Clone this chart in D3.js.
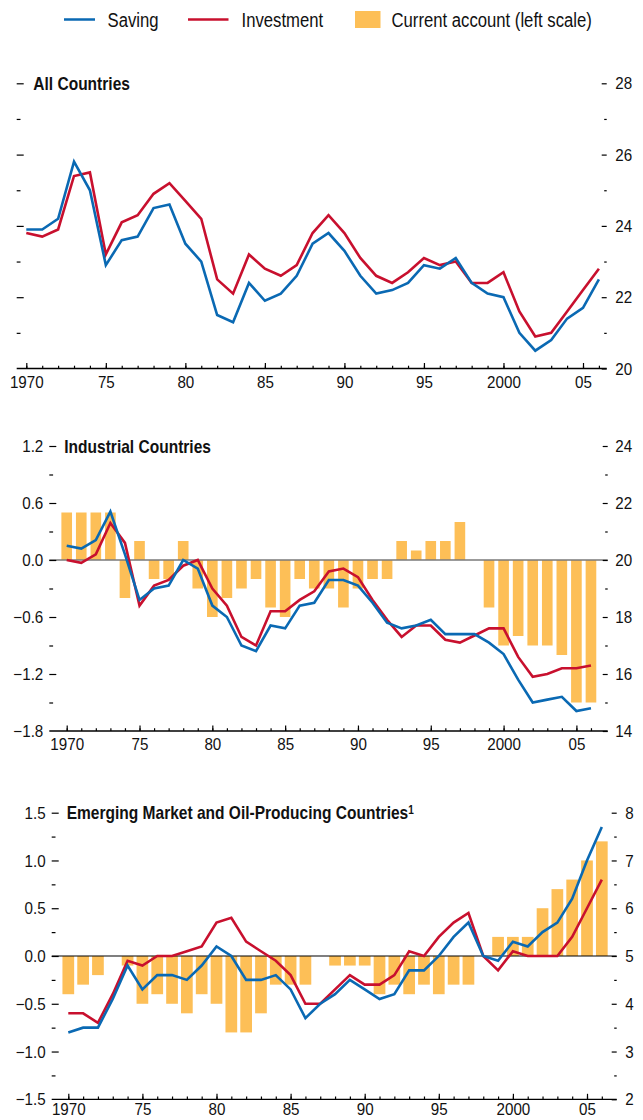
<!DOCTYPE html>
<html>
<head>
<meta charset="utf-8">
<script src="https://cdn.jsdelivr.net/npm/d3@7"></script>
<style>
  html, body { margin: 0; padding: 0; background: #fff; }
  svg { display: block; }
</style>
</head>
<body>
<svg id="chart" width="643" height="1120"></svg>
<script>
// ---------------- DATA ----------------
const years = [1970,1971,1972,1973,1974,1975,1976,1977,1978,1979,
               1980,1981,1982,1983,1984,1985,1986,1987,1988,1989,
               1990,1991,1992,1993,1994,1995,1996,1997,1998,1999,
               2000,2001,2002,2003,2004,2005,2006];
const xTickYears  = [1970,1975,1980,1985,1990,1995,2000,2005];
const xTickLabels = ["1970","75","80","85","90","95","2000","05"];

// All countries (percent of GDP, right scale)
const allSaving     = [23.9,23.9,24.2,25.8,25.0,22.9,23.6,23.7,24.5,24.6,
                       23.5,23.0,21.5,21.3,22.4,21.9,22.1,22.6,23.5,23.8,
                       23.3,22.6,22.1,22.2,22.4,22.9,22.8,23.1,22.4,22.1,
                       22.0,21.0,20.5,20.8,21.4,21.7,22.5];
const allInvestment = [23.8,23.7,23.9,25.4,25.5,23.2,24.1,24.3,24.9,25.2,
                       24.7,24.2,22.5,22.1,23.2,22.8,22.6,22.9,23.8,24.3,
                       23.8,23.1,22.6,22.4,22.7,23.1,22.9,23.0,22.4,22.4,
                       22.7,21.6,20.9,21.0,21.6,22.2,22.8];

// Industrial countries
const indCurrentAccount = [0.5,0.5,0.5,0.5,-0.4,0.2,-0.2,-0.2,0.2,-0.3,
                           -0.6,-0.4,-0.3,-0.2,-0.5,-0.6,-0.2,-0.3,-0.3,-0.5,
                           -0.3,-0.2,-0.2,0.2,0.1,0.2,0.2,0.4,0.0,-0.5,
                           -0.9,-0.8,-0.9,-0.9,-1.0,-1.5,-1.5];
const indSaving     = [20.5,20.4,20.7,21.7,20.2,18.6,19.0,19.1,20.0,19.7,
                       18.4,18.0,17.0,16.8,17.7,17.6,18.4,18.5,19.3,19.3,
                       19.1,18.5,17.8,17.6,17.7,17.9,17.4,17.4,17.4,17.1,
                       16.7,15.8,15.0,15.1,15.2,14.7,14.8];
const indInvestment = [20.0,19.9,20.2,21.3,20.6,18.4,19.1,19.3,19.8,20.0,
                       19.0,18.4,17.3,17.0,18.2,18.2,18.6,18.9,19.6,19.7,
                       19.4,18.6,17.9,17.3,17.7,17.7,17.2,17.1,17.35,17.6,
                       17.6,16.6,15.9,16.0,16.2,16.2,16.3];

// Emerging market and oil-producing countries
const emCurrentAccount = [-0.4,-0.3,-0.2,0.0,-0.1,-0.5,-0.4,-0.5,-0.6,-0.4,
                          -0.5,-0.8,-0.8,-0.6,-0.3,-0.3,-0.3,0.0,-0.1,-0.1,
                          -0.1,-0.4,-0.3,-0.4,-0.3,-0.4,-0.3,-0.3,0.0,0.2,
                          0.2,0.2,0.5,0.7,0.8,1.0,1.2];
const emSaving     = [3.4,3.5,3.5,4.1,4.8,4.3,4.6,4.6,4.5,4.8,
                      5.2,5.0,4.5,4.5,4.6,4.3,3.7,4.0,4.2,4.5,
                      4.3,4.1,4.2,4.7,4.7,5.0,5.4,5.7,5.0,4.9,
                      5.3,5.2,5.5,5.7,6.2,7.0,7.7];
const emInvestment = [3.8,3.8,3.6,4.2,4.9,4.8,5.0,5.0,5.1,5.2,
                      5.7,5.8,5.3,5.1,4.9,4.6,4.0,4.0,4.3,4.6,
                      4.4,4.4,4.6,5.1,5.0,5.4,5.7,5.9,5.0,4.7,
                      5.1,5.0,5.0,5.0,5.4,6.0,6.6];

// Axis tick values
const allRightMajor = [20,22,24,26,28];
const allRightMinor = [21,23,25,27];
const indLeftMajor  = [-1.8,-1.2,-0.6,0.0,0.6,1.2];
const indLeftMinor  = [-1.5,-0.9,-0.3,0.3,0.9];
const indRightMajor = [14,16,18,20,22,24];
const indRightMinor = [15,17,19,21,23];
const emLeftMajor   = [-1.5,-1.0,-0.5,0.0,0.5,1.0,1.5];
const emLeftMinor   = [-1.25,-0.75,-0.25,0.25,0.75,1.25];
const emRightMajor  = [2,3,4,5,6,7,8];
const emRightMinor  = [2.5,3.5,4.5,5.5,6.5,7.5];

const legendLabels = ["Saving","Investment","Current account (left scale)"];
const titles = ["All Countries","Industrial Countries","Emerging Market and Oil-Producing Countries"];

// ---------------- STYLE ----------------
const BLUE = "#0a69b3", RED = "#c8102e", ORANGE = "#fdbf57";
const FONT = "'Liberation Sans', Arial, sans-serif";
const TXT_SCALE = 0.835;   // condensed look
const NUM_SCALE = 0.92;

const svg = d3.select("#chart");

function condText(parent, x, y, str, size, weight, sx) {
  return parent.append("text")
    .attr("transform", `translate(${x},${y}) scale(${sx},1)`)
    .attr("font-family", FONT).attr("font-size", size)
    .attr("font-weight", weight).attr("fill", "#111").text(str);
}

// ---------------- LEGEND ----------------
const lg = svg.append("g");
lg.append("line").attr("x1",64).attr("x2",95).attr("y1",19.5).attr("y2",19.5)
  .attr("stroke",BLUE).attr("stroke-width",2.5);
condText(lg, 107.5, 26.5, legendLabels[0], 20, "normal", TXT_SCALE);
lg.append("line").attr("x1",188).attr("x2",228.5).attr("y1",19.5).attr("y2",19.5)
  .attr("stroke",RED).attr("stroke-width",2.5);
condText(lg, 241.5, 26.5, legendLabels[1], 20, "normal", TXT_SCALE);
lg.append("rect").attr("x",355).attr("y",11).attr("width",25.5).attr("height",17)
  .attr("fill",ORANGE);
condText(lg, 391.5, 26.5, legendLabels[2], 20, "normal", TXT_SCALE);

// ---------------- PANEL BUILDER ----------------
function panel(cfg) {
  const g = svg.append("g");
  const x = d3.scaleLinear().domain([1970,2005]).range(cfg.xRange);
  const yR = d3.scaleLinear().domain(cfg.rightDomain).range([cfg.yBot, cfg.yTop]);
  const yL = cfg.leftDomain ? d3.scaleLinear().domain(cfg.leftDomain).range([cfg.yBot, cfg.yTop]) : null;
  const step = x(1971) - x(1970);

  // bars
  if (cfg.ca) {
    const bw = step * cfg.barFrac;
    g.append("g").selectAll("rect").data(years.map((yr,i)=>({yr, v:cfg.ca[i]})).filter(d=>d.v!==0))
      .join("rect")
      .attr("x", d => x(d.yr) - bw/2)
      .attr("width", bw)
      .attr("y", d => Math.min(yL(d.v), yL(0)))
      .attr("height", d => Math.abs(yL(d.v) - yL(0)))
      .attr("fill", ORANGE);
    g.append("line").attr("x1",cfg.axisX0).attr("x2",cfg.axisX1)
      .attr("y1",yL(0)).attr("y2",yL(0))
      .attr("stroke",cfg.zeroColor).attr("stroke-width",cfg.zeroWidth);
  }

  // lines
  const line = d3.line().x((d,i)=>x(years[i])).y(d=>yR(d));
  g.append("path").datum(cfg.investment).attr("d",line)
    .attr("fill","none").attr("stroke",RED).attr("stroke-width",2.6);
  g.append("path").datum(cfg.saving).attr("d",line)
    .attr("fill","none").attr("stroke",BLUE).attr("stroke-width",2.6);

  // x axis line
  g.append("line").attr("x1",cfg.axisX0).attr("x2",cfg.axisX1)
    .attr("y1",cfg.yBot).attr("y2",cfg.yBot).attr("stroke","#000").attr("stroke-width",1.3);

  // x minor ticks
  const xMin = g.append("g").attr("transform",`translate(0,${cfg.yBot})`)
    .call(d3.axisBottom(x).tickValues(years).tickSize(-2.8).tickFormat(""));
  // x major ticks + labels
  const xMaj = g.append("g").attr("transform",`translate(0,${cfg.yBot})`)
    .call(d3.axisBottom(x).tickValues(xTickYears).tickSize(-5.5).tickPadding(cfg.xLabelPad)
      .tickFormat((d,i)=>xTickLabels[i]));
  [xMin,xMaj].forEach(a => a.select(".domain").remove());

  // left axis
  const lScale = yL || yR;
  const lMajTicks = cfg.leftMajor || cfg.rightMajor;
  const lMinTicks = cfg.leftMinor || cfg.rightMinor;
  const lMaj = g.append("g").attr("transform",`translate(${cfg.axisX0},0)`)
    .call(d3.axisLeft(lScale).tickValues(lMajTicks.filter(v=>v!==lScale.domain()[0]))
      .tickSize(-7).tickPadding(6)
      .tickFormat(cfg.leftMajor ? cfg.leftFormat : ""));
  const lMin = g.append("g").attr("transform",`translate(${cfg.axisX0},0)`)
    .call(d3.axisLeft(lScale).tickValues(lMinTicks).tickSize(-3.8).tickFormat(""));
  if (cfg.leftMajor) {
    lMaj.append("g").attr("class","tick").attr("transform",`translate(0,${lScale(lScale.domain()[0])})`)
      .append("text").attr("x",-6).attr("dy","0.32em").attr("text-anchor","end")
      .text(cfg.leftFormat(lScale.domain()[0]));
  }

  // right axis
  const rMaj = g.append("g").attr("transform",`translate(${cfg.rightAxisX},0)`)
    .call(d3.axisRight(yR).tickValues(cfg.rightMajor).tickSize(-5).tickPadding(cfg.rightPad)
      .tickFormat(d3.format("d")));
  const rMin = g.append("g").attr("transform",`translate(${cfg.rightAxisX},0)`)
    .call(d3.axisRight(yR).tickValues(cfg.rightMinor).tickSize(-2.5).tickFormat(""));

  [lMaj,lMin,rMaj,rMin].forEach(a => a.select(".domain").remove());
  [xMin,xMaj,lMaj,lMin,rMaj,rMin].forEach(a => {
    a.attr("font-family",null).attr("font-size",null);
    a.selectAll("line").attr("stroke","#000").attr("stroke-width",1.2);
    a.selectAll("text").attr("font-family",FONT).attr("font-size",16.5).attr("fill","#111")
      .attr("transform",`scale(${NUM_SCALE},1)`);
  });
  rMaj.selectAll("text").attr("dy","0.34em").attr("x", cfg.rightPad / NUM_SCALE);
  lMaj.selectAll("text").attr("dy","0.34em").attr("x", -6 / NUM_SCALE);

  // title
  const t = condText(g, cfg.titleX, cfg.yTop, cfg.title, 18.6, "bold", TXT_SCALE).attr("dy","0.36em");
  if (cfg.footnote) {
    t.append("tspan").attr("dy","-0.45em").attr("font-size",12).text(cfg.footnote);
  }
}

const fmt1 = d3.format(".1f");

panel({
  xRange:[26.3,583.0], yTop:83.3, yBot:368.5,
  axisX0:16.7, axisX1:606.7, rightAxisX:606.7, rightPad:8.5, xLabelPad:8,
  rightDomain:[20,28], rightMajor:allRightMajor, rightMinor:allRightMinor,
  saving:allSaving, investment:allInvestment,
  title:titles[0], titleX:33.3
});

panel({
  xRange:[66.7,576.4], yTop:446, yBot:731,
  axisX0:49.3, axisX1:607.7, rightAxisX:607.7, rightPad:7.5, xLabelPad:7.5,
  leftDomain:[-1.8,1.2], leftMajor:indLeftMajor, leftMinor:indLeftMinor, leftFormat:fmt1,
  rightDomain:[14,24], rightMajor:indRightMajor, rightMinor:indRightMinor,
  ca:indCurrentAccount, barFrac:0.73, zeroColor:"#7a7a7a", zeroWidth:1.6,
  saving:indSaving, investment:indInvestment,
  title:titles[1], titleX:64.3
});

panel({
  xRange:[68.3,587.0], yTop:812.7, yBot:1099.3,
  axisX0:51.7, axisX1:616.7, rightAxisX:616.7, rightPad:8.5, xLabelPad:4,
  leftDomain:[-1.5,1.5], leftMajor:emLeftMajor, leftMinor:emLeftMinor, leftFormat:fmt1,
  rightDomain:[2,8], rightMajor:emRightMajor, rightMinor:emRightMinor,
  ca:emCurrentAccount, barFrac:0.79, zeroColor:"#000", zeroWidth:1.2,
  saving:emSaving, investment:emInvestment,
  title:titles[2], titleX:66.7, footnote:"1"
});
</script>
</body>
</html>
